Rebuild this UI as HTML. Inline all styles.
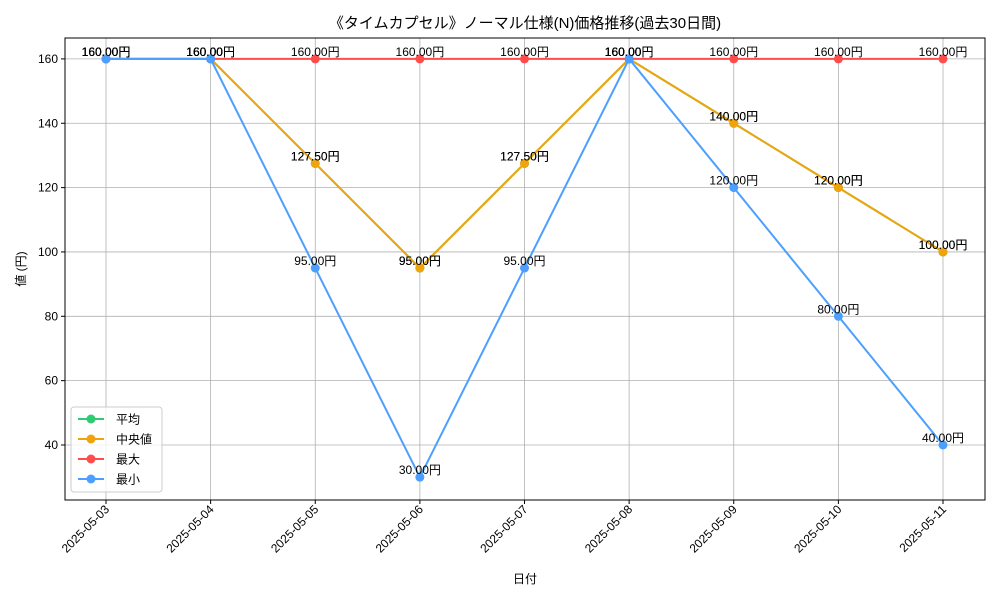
<!DOCTYPE html>
<html><head><meta charset="utf-8"><style>
body{margin:0;background:#fff;}
svg text{font-family:"Liberation Sans","Noto Sans CJK JP",sans-serif;}
</style></head><body>
<svg id="chart" width="1000" height="600" xmlns="http://www.w3.org/2000/svg"></svg>
<script>
const categories=["2025-05-03","2025-05-04","2025-05-05","2025-05-06","2025-05-07","2025-05-08","2025-05-09","2025-05-10","2025-05-11"];
const avgValues=[160,160,127.5,95,127.5,160,140,120,100];
const medianValues=[160,160,127.5,95,127.5,160,140,120,100];
const maxValues=[160,160,160,160,160,160,160,160,160];
const minValues=[160,160,95,30,95,160,120,80,40];
const yTicks=[40,60,80,100,120,140,160];
const seriesNames=["平均","中央値","最大","最小"];
const seriesColors=["#2ecc71","#f0a30a","#ff4d4d","#4d9fff"];

const NS="http://www.w3.org/2000/svg";
const svg=document.getElementById('chart');
const L=65,R=985,T=38,B=500;
const yMin=22.9,yMax=166.5;
const xs=i=>106+(943-106)*i/(categories.length-1);
const ys=v=>B-(v-yMin)/(yMax-yMin)*(B-T);
function mk(tag,attrs,parent){const e=document.createElementNS(NS,tag);for(const k in attrs)e.setAttribute(k,attrs[k]);(parent||svg).appendChild(e);return e;}

const title=mk('text',{x:525,y:28,'text-anchor':'middle','font-size':15});
title.textContent="《タイムカプセル》ノーマル仕様(N)価格推移(過去30日間)";



const grid=mk('g',{});


categories.forEach((c,i)=>{mk('line',{x1:xs(i),x2:xs(i),y1:T,y2:B,stroke:'#b0b0b0','stroke-width':0.8},grid);});
yTicks.forEach(v=>{mk('line',{x1:L,x2:R,y1:ys(v),y2:ys(v),stroke:'#b0b0b0','stroke-width':0.8},grid);});

const yAxis=mk('g',{});


yTicks.forEach(v=>{
  mk('line',{x1:L-4,x2:L,y1:ys(v),y2:ys(v),stroke:'#000'},yAxis);
  const t=mk('text',{x:L-7,y:ys(v)+4,'text-anchor':'end','font-size':12},yAxis);
  t.textContent=v;
  
  
});
const yt=mk('text',{x:25,y:269,'text-anchor':'middle','font-size':12,transform:'rotate(-90 25 269)'});
yt.textContent="値 (円)";



const xAxis=mk('g',{});


categories.forEach((c,i)=>{
  mk('line',{x1:xs(i),x2:xs(i),y1:B,y2:B+4,stroke:'#000'},xAxis);
  const x=xs(i)+4,y=B+10;
  const t=mk('text',{x:x,y:y,'text-anchor':'end','font-size':12,transform:`rotate(-45 ${x} ${y})`},xAxis);
  t.textContent=c;
  
  
});
const xt=mk('text',{x:525,y:583,'text-anchor':'middle','font-size':12});
xt.textContent="日付";



const allSeries=[avgValues,medianValues,maxValues,minValues];
const keys=["avg","median","max","min"];
allSeries.forEach((vals,s)=>{
  const g=mk('g',{});
  
  
  const pts=vals.map((v,i)=>xs(i)+','+ys(v)).join(' ');
  mk('polyline',{points:pts,fill:'none',stroke:seriesColors[s],'stroke-width':2},g);
  vals.forEach((v,i)=>{
    const c=mk('circle',{cx:xs(i),cy:ys(v),r:4.5,fill:seriesColors[s]},g);
    
    
    const t=mk('text',{x:xs(i),y:ys(v)-3,'text-anchor':'middle','font-size':12,fill:'#000'},g);
    t.textContent=v.toFixed(2)+"円";
    
    
  });
});

mk('rect',{x:L,y:T,width:R-L,height:B-T,fill:'none',stroke:'#000','stroke-width':1});

const leg=mk('g',{});


mk('rect',{x:71,y:407,width:91,height:85,rx:3,fill:'#fff','fill-opacity':0.8,stroke:'#ccc'},leg);
seriesNames.forEach((n,s)=>{
  const y=419+s*20;
  const e=mk('g',{},leg);
  
  
  mk('line',{x1:78,x2:104,y1:y,y2:y,stroke:seriesColors[s],'stroke-width':2},e);
  mk('circle',{cx:91,cy:y,r:4.5,fill:seriesColors[s]},e);
  const t=mk('text',{x:116,y:y+4.5,'font-size':12},e);
  t.textContent=n;
});
</script>
</body></html>
